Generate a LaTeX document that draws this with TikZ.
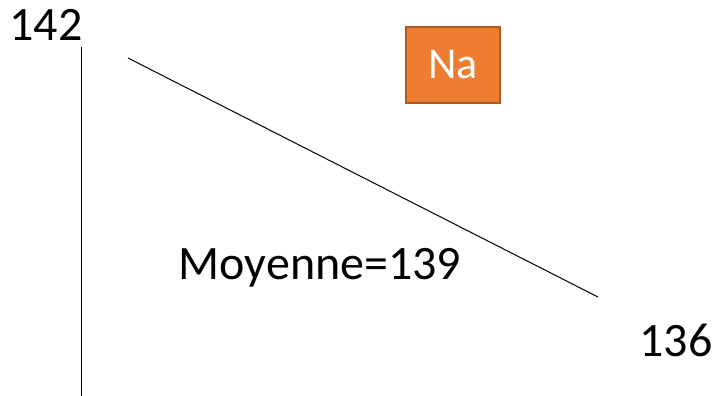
\documentclass[tikz,border=0pt]{standalone}
\usepackage{fontspec}
\setmainfont{Carlito}
\definecolor{naorange}{HTML}{ED7D31}
\definecolor{naborder}{HTML}{AE5A21}
\begin{document}
\begin{tikzpicture}[x=1pt,y=-1pt,
  bigtext/.style={font=\fontsize{48}{52}\selectfont, inner sep=0pt, anchor=base},
  nabox/.style={fill=naorange, draw=naborder, line width=1.5pt, minimum width=94pt, minimum height=76pt, inner sep=0pt, text=white, font=\fontsize{44}{48}\selectfont},
  thinline/.style={line width=1pt, black}]
\useasboundingbox (0,0) rectangle (718,396);
\node[bigtext] (t142) at (46,41) {142};
\node[bigtext] (tmoy) at (320,279) {Moyenne=139};
\node[bigtext] (t136) at (676,356) {136};
\node[nabox] (na) at (453,65) {Na};
\coordinate (vtop) at (81,47);
\coordinate (vbot) at (81,396);
\coordinate (dA) at (128,58);
\coordinate (dB) at (598,297);
\draw[thinline] (vtop) -- (vbot);
\draw[thinline] (dA) -- (dB);
\end{tikzpicture}
\end{document}
